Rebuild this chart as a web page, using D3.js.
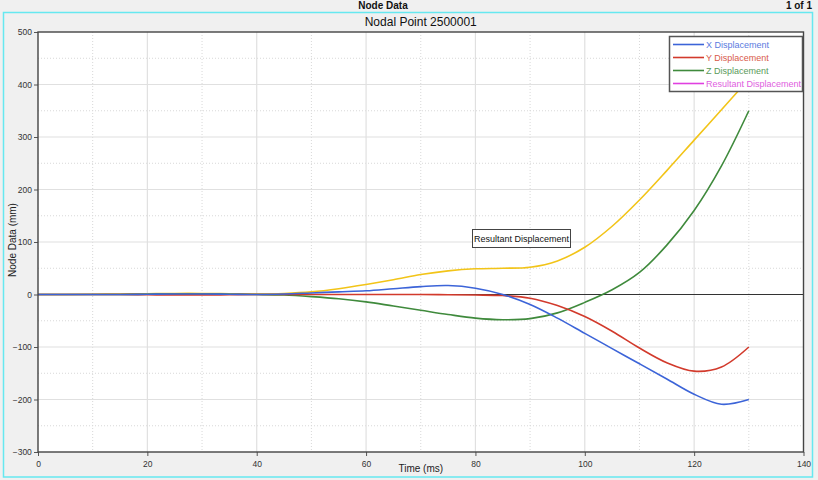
<!DOCTYPE html>
<html><head><meta charset="utf-8">
<script src="https://cdn.jsdelivr.net/npm/d3@7"></script>
<style>
html,body{margin:0;padding:0;background:#f0f0f0;}
svg{display:block;font-family:"Liberation Sans",Arial,sans-serif;}
</style></head>
<body><svg id="c" width="818" height="480"></svg>
<script>
const times = [0,5,10,15,20,25,30,35,40,45,50,55,60,65,70,75,80,85,90,95,100,105,110,115,120,125,130];
const xDisp = [0,0,0,0,0.5,1,1,0.5,0,1,3,5,7,11,15,17,12,0,-19,-45,-74,-103,-132,-161,-190,-209,-200];
const yDisp = [0,0,0,0,-0.5,-1,-1,-0.5,0,0,0,0,0,0,0,-0.5,-1,-2,-7,-21,-42,-70,-102,-130,-146,-138,-100];
const zDisp = [0,0,0,0,0.5,1,1,0.5,0,-1,-4,-8,-14,-22,-30,-38,-45,-48,-46,-35,-15,9,42,94,160,245,350];
const resDisp = [0,0,0.5,1,1.5,2,2,1.5,1,2,5,11,19,28,38,45,49,50,52,64,90,130,180,236,294,352,410];
const seriesNames = ["X Displacement","Y Displacement","Z Displacement","Resultant Displacement"];
const xTicks = [0,20,40,60,80,100,120,140];
const yTicks = [-300,-200,-100,0,100,200,300,400,500];

const svg = d3.select("#c");
const L=38, R=803.5, T=32, B=452;
const x = d3.scaleLinear().domain([0,140]).range([L,R]);
const y = d3.scaleLinear().domain([-300,500]).range([B,T]);

// cyan frame
svg.append("rect").attr("x",3.5).attr("y",12.5).attr("width",809).attr("height",464.5)
  .attr("fill","#f0f0f0").attr("stroke","#66e8f0").attr("stroke-width",1.5);
svg.append("text").attr("x",383).attr("y",9).attr("text-anchor","middle")
  .attr("font-size",10).attr("font-weight","bold").attr("fill","#111").text("Node Data");
svg.append("text").attr("x",812).attr("y",9).attr("text-anchor","end")
  .attr("font-size",10).attr("font-weight","bold").attr("fill","#111").text("1 of 1");
svg.append("text").attr("x",(L+R)/2).attr("y",26).attr("text-anchor","middle")
  .attr("font-size",12).attr("fill","#111").text("Nodal Point 2500001");

// plot bg
svg.append("rect").attr("x",L).attr("y",T).attr("width",R-L).attr("height",B-T).attr("fill","#fff");

// grid
const g = svg.append("g");
d3.range(10,140,20).forEach(v=>g.append("line").attr("x1",x(v)).attr("x2",x(v)).attr("y1",T).attr("y2",B)
  .attr("stroke","#d8d8d8").attr("stroke-dasharray","1,2"));
d3.range(-250,500,100).forEach(v=>g.append("line").attr("y1",y(v)).attr("y2",y(v)).attr("x1",L).attr("x2",R)
  .attr("stroke","#d8d8d8").attr("stroke-dasharray","1,2"));
xTicks.slice(1,-1).forEach(v=>g.append("line").attr("x1",x(v)).attr("x2",x(v)).attr("y1",T).attr("y2",B)
  .attr("stroke","#e0e0e0").attr("stroke-width",1.2));
yTicks.slice(1,-1).forEach(v=>g.append("line").attr("y1",y(v)).attr("y2",y(v)).attr("x1",L).attr("x2",R)
  .attr("stroke","#e0e0e0").attr("stroke-width",1.2));
// zero line
svg.append("line").attr("x1",L).attr("x2",R).attr("y1",y(0)).attr("y2",y(0)).attr("stroke","#333").attr("stroke-width",1);

// axes
const xa = svg.append("g").attr("transform",`translate(0,${B})`)
  .call(d3.axisBottom(x).tickValues(xTicks).tickSize(4).tickSizeOuter(0));
const ya = svg.append("g").attr("transform",`translate(${L},0)`)
  .call(d3.axisLeft(y).tickValues(yTicks).tickSize(4).tickSizeOuter(0));
[xa,ya].forEach(a=>{a.select(".domain").remove();a.selectAll("line").attr("stroke","#555");
  a.selectAll("text").attr("font-size",8.5).attr("fill","#333").attr("font-family","'Liberation Sans Narrow','Liberation Sans',Arial,sans-serif");});
xa.selectAll("text").attr("dy","0.9em");
ya.selectAll("text").attr("dx","0.1em");

// lines
const colors = ["#3c64d8","#d23a2c","#3f8a3c","#f2c418"];
const datasets = [xDisp,yDisp,zDisp,resDisp];
const line = d3.line().x((d,i)=>x(times[i])).y(d=>y(d)).curve(d3.curveCatmullRom.alpha(0.5));
const order=[3,2,1,0];
order.forEach(k=>svg.append("path").attr("d",line(datasets[k])).attr("fill","none")
  .attr("stroke",colors[k]).attr("stroke-width",1.6));

// frame
svg.append("rect").attr("x",L).attr("y",T).attr("width",R-L).attr("height",B-T)
  .attr("fill","none").attr("stroke","#444").attr("stroke-width",1.4);

// axis titles
svg.append("text").attr("x",(L+R)/2).attr("y",472).attr("text-anchor","middle")
  .attr("font-size",10).attr("fill","#222").text("Time (ms)");
svg.append("text").attr("transform","translate(16,240) rotate(-90)").attr("text-anchor","middle")
  .attr("font-size",10).attr("fill","#222").text("Node Data (mm)");

// annotation
svg.append("rect").attr("x",472.5).attr("y",229.5).attr("width",98).attr("height",18)
  .attr("fill","#fff").attr("stroke","#444").attr("stroke-width",1);
svg.append("text").attr("x",521.5).attr("y",241.5).attr("text-anchor","middle")
  .attr("font-size",9).attr("fill","#111").text("Resultant Displacement");

// legend
const legColors = ["#3c64d8","#d23a2c","#3f8a3c","#e040e0"];
const legText = ["#5a7be0","#d85a4a","#5a9a5a","#e060e0"];
const lg = svg.append("g");
lg.append("rect").attr("x",669.5).attr("y",36.5).attr("width",133).attr("height",55)
  .attr("fill","#fff").attr("stroke","#555").attr("stroke-width",1.5);
seriesNames.forEach((n,i)=>{
  const yy = 44.5 + i*13;
  lg.append("line").attr("x1",673).attr("x2",704).attr("y1",yy).attr("y2",yy).attr("stroke",legColors[i]).attr("stroke-width",1.6);
  lg.append("text").attr("x",706).attr("y",yy+3.2).attr("font-size",9).attr("fill",legText[i]).text(n);
});
</script></body></html>
